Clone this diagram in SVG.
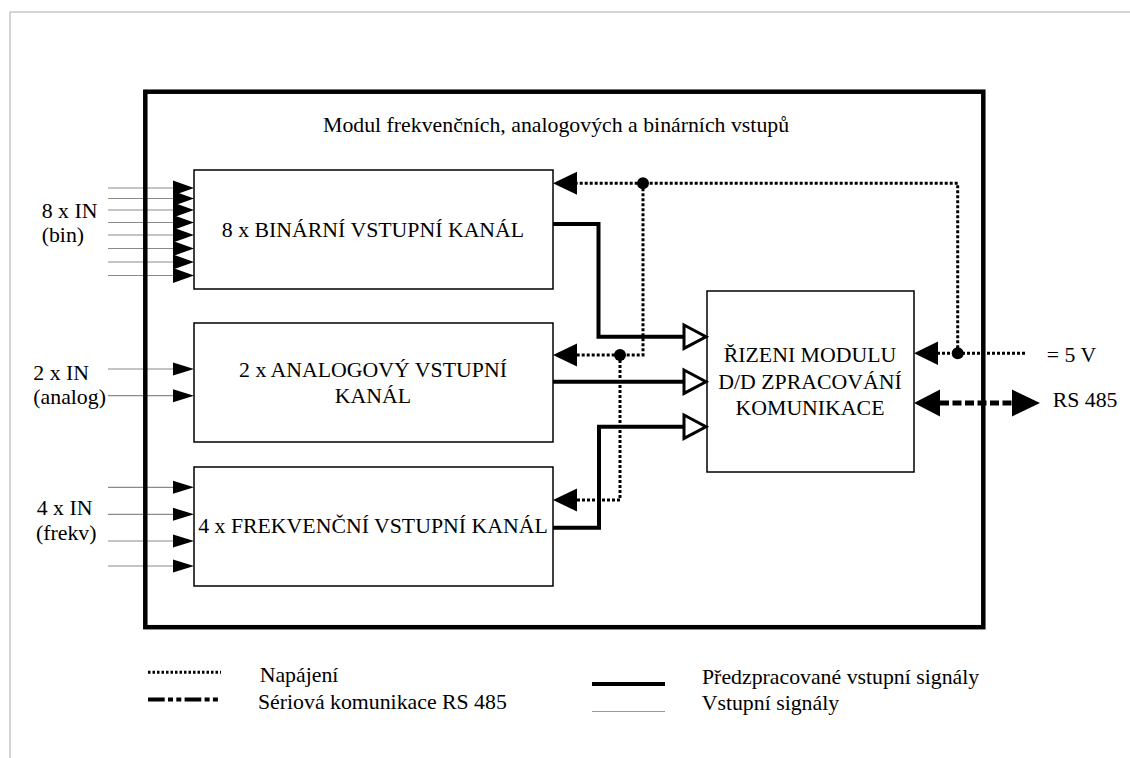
<svg xmlns="http://www.w3.org/2000/svg" width="1130" height="758" viewBox="0 0 1130 758">
<style>
text{font-family:"Liberation Serif","Times New Roman",serif;font-size:21.8px;fill:#000}
.mid{text-anchor:middle}
.box{fill:#fff;stroke:#000;stroke-width:1.5}
.in{stroke:#8a8a8a;stroke-width:1.2;fill:none}
.fa{fill:#000;stroke:none}
.sig{stroke:#000;stroke-width:4;fill:none}
.ha{fill:#fff;stroke:#000;stroke-width:3;stroke-linejoin:miter}
.pwr{stroke:#000;stroke-width:3;fill:none;stroke-dasharray:3 2}
.rs{stroke:#000;stroke-width:5;fill:none;stroke-dasharray:9 3.5}
</style>
<rect width="1130" height="758" fill="#fff"/>
<g id="page-border">
<path d="M10,12 H1130 M10,12 V758" stroke="#aaa" stroke-width="1" fill="none"/>
</g>
<g id="inputs">
<path class="in" d="M108,188 H174 M108,198.5 H174 M108,210 H174 M108,222.5 H174 M108,235 H174 M108,248.5 H174 M108,262 H174 M108,275.5 H174"/>
<path class="in" d="M108,369 H174 M108,395.7 H174"/>
<path class="in" d="M108,487.3 H174 M108,514.3 H174 M108,541 H174 M108,566 H174"/>
</g>
<g id="module-frame">
<rect x="145.3" y="91.7" width="838" height="535.5" fill="none" stroke="#000" stroke-width="4.5"/>
<text x="323" y="131.7">Modul frekvenčních, analogových a binárních vstupů</text>
</g>
<g id="node-binary">
<rect class="box" x="194" y="170" width="359" height="119"/>
<text class="mid" x="373" y="237.3">8 x BINÁRNÍ VSTUPNÍ KANÁL</text>
</g>
<g id="node-analog">
<rect class="box" x="194" y="323" width="359" height="119"/>
<text class="mid" x="373" y="376.7">2 x ANALOGOVÝ VSTUPNÍ</text>
<text class="mid" x="373" y="403.3">KANÁL</text>
</g>
<g id="node-freq">
<rect class="box" x="194" y="467" width="359" height="119"/>
<text class="mid" x="373" y="533.3">4 x FREKVENČNÍ VSTUPNÍ KANÁL</text>
</g>
<g id="node-control">
<rect class="box" x="707" y="291" width="207" height="181"/>
<text class="mid" x="810" y="362">ŘIZENI MODULU</text>
<text class="mid" x="810" y="388.5">D/D ZPRACOVÁNÍ</text>
<text class="mid" x="810" y="415">KOMUNIKACE</text>
</g>
<g id="connectors">
<g id="input-arrows">
<polygon class="fa" points="173,180.5 194,188 173,195.5"/>
<polygon class="fa" points="173,191 194,198.5 173,206"/>
<polygon class="fa" points="173,202.5 194,210 173,217.5"/>
<polygon class="fa" points="173,215 194,222.5 173,230"/>
<polygon class="fa" points="173,227.5 194,235 173,242.5"/>
<polygon class="fa" points="173,241 194,248.5 173,256"/>
<polygon class="fa" points="173,254.5 194,262 173,269.5"/>
<polygon class="fa" points="173,268 194,275.5 173,283"/>
<polygon class="fa" points="173,362.5 194,369 173,375.5"/>
<polygon class="fa" points="173,389.2 194,395.7 173,402.2"/>
<polygon class="fa" points="173,480.8 194,487.3 173,493.8"/>
<polygon class="fa" points="173,507.8 194,514.3 173,520.8"/>
<polygon class="fa" points="173,534.5 194,541 173,547.5"/>
<polygon class="fa" points="173,559.5 194,566 173,572.5"/>
</g>
<g id="signal-lines">
<path class="sig" d="M553,224 H598.5 V336.7 H684"/>
<path class="sig" d="M553,381.7 H684"/>
<path class="sig" d="M553,527.7 H599 V426.7 H684"/>
<polygon class="ha" points="684,325 706,336.7 684,348.4"/>
<polygon class="ha" points="684,370 706,381.7 684,393.4"/>
<polygon class="ha" points="684,415 706,426.7 684,438.4"/>
</g>
<g id="power-lines">
<path class="pwr" d="M1025,353.3 H938"/>
<path class="pwr" d="M957.7,353.3 V183.3 H577"/>
<path class="pwr" d="M643,183.3 V355 H577"/>
<path class="pwr" d="M620,355 V500 H577"/>
<circle cx="957.7" cy="353.3" r="6"/>
<circle cx="643" cy="183.3" r="6"/>
<circle cx="620" cy="355" r="6"/>
<polygon class="fa" points="553,183.3 577,171.8 577,194.8"/>
<polygon class="fa" points="553,355 577,343.5 577,366.5"/>
<polygon class="fa" points="553,500 577,488.5 577,511.5"/>
<polygon class="fa" points="914,353.3 938,341.5 938,365"/>
</g>
<g id="rs485-line">
<path class="rs" d="M940,403 H1012"/>
<polygon class="fa" points="914,403 940,389.5 940,416.5"/>
<polygon class="fa" points="1040,403 1012,389.5 1012,416.5"/>
</g>
</g>
<g id="labels">
<text x="41.7" y="218.3">8 x IN</text>
<text x="41.7" y="242">(bin)</text>
<text x="33.3" y="380">2 x IN</text>
<text x="33.3" y="404">(analog)</text>
<text x="36.7" y="515">4 x IN</text>
<text x="36" y="540">(frekv)</text>
<text x="1046.7" y="361.7">= 5 V</text>
<text x="1052.7" y="406.7">RS 485</text>
</g>
<g id="legend">
<path d="M148,672.3 H221" stroke="#000" stroke-width="3" stroke-dasharray="2.5 2" fill="none"/>
<path d="M148,699.5 H221" stroke="#000" stroke-width="4" stroke-dasharray="16.7 3.3 5 3.3 5 3.3" fill="none"/>
<path d="M592,684 H665" stroke="#000" stroke-width="4" fill="none"/>
<path d="M592,711.5 H665" stroke="#999" stroke-width="1.2" fill="none"/>
<text x="259.7" y="682">Napájení</text>
<text x="258" y="708.5">Sériová komunikace RS 485</text>
<text x="702" y="684">Předzpracované vstupní signály</text>
<text x="701.7" y="710">Vstupní signály</text>
</g>
</svg>
